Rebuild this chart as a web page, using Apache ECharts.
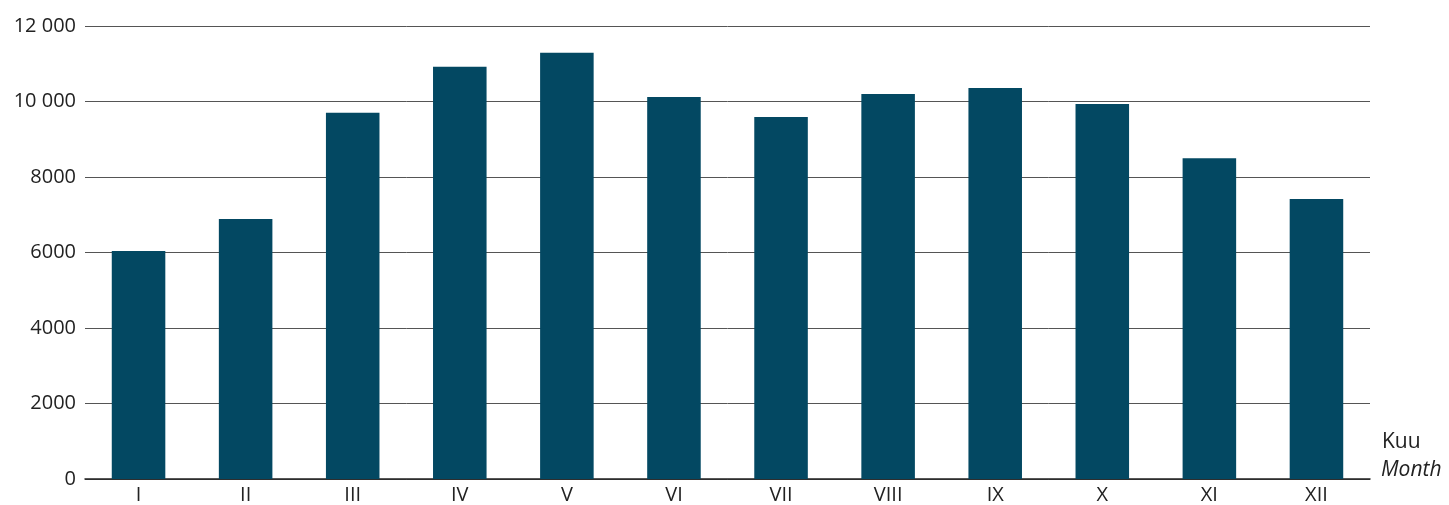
<!DOCTYPE html>
<html><head><meta charset="utf-8">
<script src="https://cdn.jsdelivr.net/npm/echarts@6/dist/echarts.min.js"></script>
<style>html,body{margin:0;padding:0;background:#fff}#c{width:1449px;height:505px}</style>
</head><body><div id="c"></div>
<script>
const categories = ['I','II','III','IV','V','VI','VII','VIII','IX','X','XI','XII'];
const values = [6040, 6890, 9700, 10920, 11290, 10120, 9590, 10200, 10360, 9935, 8500, 7420];
const yTicks = [0, 2000, 4000, 6000, 8000, 10000, 12000];
const axisTitle = ['Kuu', 'Month'];

const chart = echarts.init(document.getElementById('c'), null, {renderer:'canvas'});
const font = '"Open Sans", "Noto Sans", sans-serif';
chart.setOption({
  animation: false,
  grid: {left: 85, right: 79, top: 26, bottom: 26, containLabel: false},
  xAxis: {
    type: 'category', data: categories,
    axisLine: {lineStyle: {color: '#222', width: 1.5}},
    axisTick: {show: false},
    axisLabel: {color: '#222', fontSize: 20, fontFamily: font, margin: 6}
  },
  yAxis: {
    type: 'value', min: yTicks[0], max: yTicks[yTicks.length-1], interval: 2000,
    axisLine: {show: false}, axisTick: {show: false},
    splitLine: {lineStyle: {color: '#555', width: 1}},
    axisLabel: {color: '#222', fontSize: 20, fontFamily: font, margin: 9,
      formatter: v => v >= 10000 ? String(v).replace(/(\d)(?=(\d{3})+$)/g, '$1 ') : String(v)}
  },
  series: [{
    type: 'bar', data: values, barWidth: '50%',
    itemStyle: {color: '#034862'}
  }],
  graphic: [
    {type: 'text', left: 1382, top: 432, style: {text: axisTitle[0], fill: '#222', font: '21px ' + font}},
    {type: 'text', left: 1381, top: 460, style: {text: axisTitle[1], fill: '#222', font: 'italic 21px ' + font}}
  ]
});
</script></body></html>
